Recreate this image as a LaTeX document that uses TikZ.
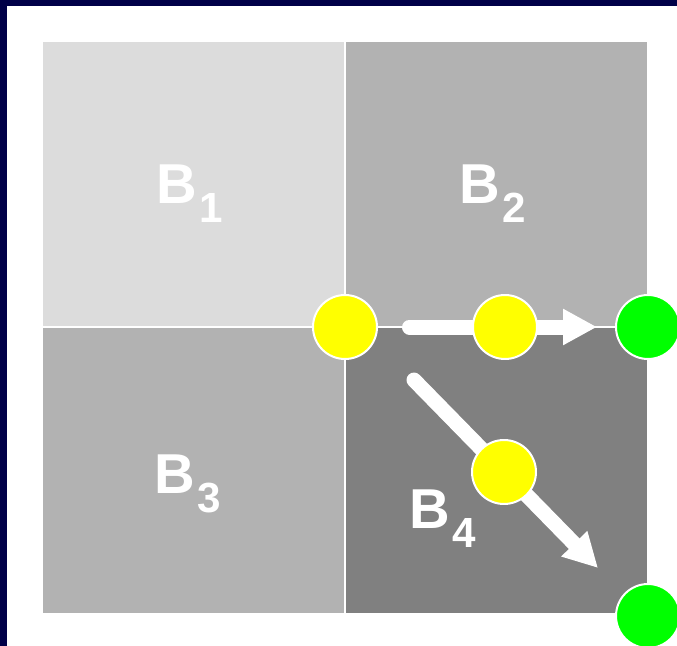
\documentclass[tikz,border=0pt]{standalone}
\usepackage{fontspec}
\setmainfont{Liberation Sans}
\usetikzlibrary{arrows.meta}
\definecolor{navy}{RGB}{0,0,72}
\definecolor{lightgr}{RGB}{220,220,220}
\definecolor{midgr}{RGB}{178,178,178}
\definecolor{darkgr}{RGB}{128,128,128}
\definecolor{dotyel}{RGB}{255,255,0}
\definecolor{dotgrn}{RGB}{0,255,0}
\newcommand{\blab}[1]{B\kern1.5pt\raisebox{-11pt}{\fontsize{24}{24}\selectfont #1}}

\begin{document}
\begin{tikzpicture}[x=0.02cm, y=-0.02cm,
    block/.style={draw=white, line width=0.04cm},
    dot/.style={circle, draw=white, line width=0.04cm, minimum size=1.28cm, inner sep=0pt},
    blocklabel/.style={anchor=base west, inner sep=0pt, text=white, font=\fontsize{32}{32}\selectfont\bfseries},
    flow/.style={draw=white, line width=0.3cm, line cap=round, -{Triangle[length=0.68cm, width=0.68cm]}}]
    \clip (0,0) rectangle (677,646);
    % frame
    \fill[navy] (0,0) rectangle (677,646);
    \fill[white] (7,6) rectangle (677,646);
    % blocks
    \filldraw[block, fill=lightgr] (42,41) rectangle (345,327);
    \filldraw[block, fill=midgr] (345,41) rectangle (648,327);
    \filldraw[block, fill=midgr] (42,327) rectangle (345,614);
    \filldraw[block, fill=darkgr] (345,327) rectangle (648,614);
    \node[blocklabel] (b1) at (156,203) {\blab{1}};
    \node[blocklabel] (b2) at (459,203) {\blab{2}};
    \node[blocklabel] (b3) at (154,493) {\blab{3}};
    \node[blocklabel] (b4) at (409,528) {\blab{4}};
    % corners
    \node[dot, fill=dotyel] (c0) at (345,327) {};
    \node[dot, fill=dotgrn] (g1) at (648,327) {};
    \node[dot, fill=dotgrn] (g2) at (648,616) {};
    % moves
    \coordinate (d0) at (414,380);
    \coordinate (d1) at (598,568);
    \draw[flow, shorten <=0.63cm, shorten >=0.36cm] (c0) -- (g1);
    \draw[flow] (d0) -- (d1);
    \node[dot, fill=dotyel] (m1) at (505,327) {};
    \node[dot, fill=dotyel] (m2) at (504,472) {};
\end{tikzpicture}
\end{document}
